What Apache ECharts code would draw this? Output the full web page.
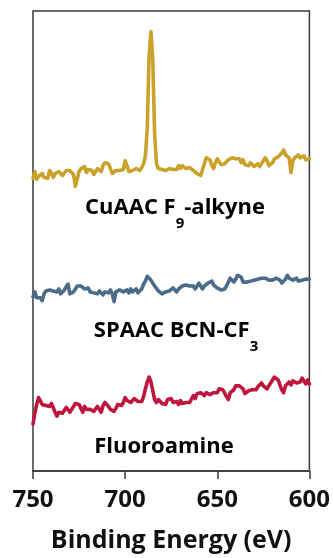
<!DOCTYPE html>
<html>
<head>
<meta charset="utf-8">
<script src="https://cdn.jsdelivr.net/npm/echarts@6/dist/echarts.min.js"></script>
<style>
html,body{margin:0;padding:0;background:#fff;}
#chart{width:333px;height:558px;}
</style>
</head>
<body>
<div id="chart"></div>
<script>
// Binding energy (eV), 1 eV steps
var energies = [750,749,748,747,746,745,744,743,742,741,740,739,738,737,736,735,734,733,732,731,730,729,728,727,726,725,724,723,722,721,720,719,718,717,716,715,714,713,712,711,710,709,708,707,706,705,704,703,702,701,700,699,698,697,696,695,694,693,692,691,690,689,688,687,686,685,684,683,682,681,680,679,678,677,676,675,674,673,672,671,670,669,668,667,666,665,664,663,662,661,660,659,658,657,656,655,654,653,652,651,650,649,648,647,646,645,644,643,642,641,640,639,638,637,636,635,634,633,632,631,630,629,628,627,626,625,624,623,622,621,620,619,618,617,616,615,614,613,612,611,610,609,608,607,606,605,604,603,602,601,600];
// Offset intensities (a.u.)
var cuaac = [299,306,298,301,300,304,300,300,299,307,
  304,300,304,302,306,305,302,304,307,309,
  307,306,303,291,298,306,309,307,311,305,
  308,310,307,303,306,309,307,306,312,315,
  317,314,309,304,306,307,305,307,308,308,
  317,312,306,305,307,307,309,307,307,310,
  314,322,350,425,449,420,345,314,309,311,
  308,310,307,309,309,307,308,310,308,312,
  309,312,310,309,311,310,312,307,309,304,
  302,302,308,314,320,322,318,312,309,315,
  319,318,313,312,314,316,318,320,320,320,
  319,317,319,315,318,313,314,312,315,313,
  311,312,314,311,313,317,320,317,312,310,
  315,319,318,321,323,325,328,323,325,320,
  305,317,320,321,323,320,320,322,318,318,
  319];
var spaac = [178,183,177,179,177,174,181,184,184,185,
  185,184,184,183,186,181,183,185,188,191,
  181,180,183,186,189,188,189,188,186,185,
  187,183,183,182,184,181,184,182,180,183,
  183,182,185,181,173,183,184,185,185,183,
  185,185,182,186,183,185,186,182,182,186,
  191,194,199,199,195,192,189,187,184,184,
  181,183,183,183,184,184,187,185,183,186,
  188,189,189,190,190,189,190,189,186,188,
  192,189,186,189,191,192,191,194,190,190,
  187,186,185,187,186,189,191,197,198,193,
  196,200,202,198,193,194,193,195,194,194,
  195,193,196,194,197,195,197,198,195,197,
  195,196,197,195,195,192,194,196,200,197,
  199,195,196,197,194,195,195,194,196,198,
  196];
var fluoro = [48,59,68,75,75,68,66,67,67,66,
  69,67,60,56,60,61,59,60,65,64,
  60,63,65,69,70,68,64,60,66,63,
  63,63,63,61,59,66,64,60,67,70,
  70,66,63,65,61,64,68,70,67,70,
  75,72,74,70,71,74,75,71,69,71,
  76,84,91,96,91,82,73,70,73,73,
  69,71,68,73,75,74,70,69,71,68,
  72,69,67,70,69,70,72,77,74,79,
  77,80,78,77,80,82,78,76,80,81,
  80,84,85,83,81,76,73,80,82,83,
  87,85,87,86,84,79,77,82,83,83,
  85,83,86,88,90,87,85,84,86,90,
  92,96,97,93,93,83,80,87,88,91,
  88,92,90,90,88,91,95,92,89,93,
  89];
var xTicks = [750,700,650,600];
var seriesNames = ['CuAAC F9-alkyne','SPAAC BCN-CF3','Fluoroamine'];

function pairs(vals){ return energies.map(function(e,i){ return [e, vals[i]]; }); }

var chart = echarts.init(document.getElementById('chart'), null, {renderer:'canvas'});
var font = '"Open Sans", "DejaVu Sans", sans-serif';
var frame = '#3a3a3a';
var labelStyle = {
  a: {fontFamily: font, fontWeight: 'bold', fontSize: 22, color: '#111', lineHeight: 28, verticalAlign: 'middle'},
  sub: {fontFamily: font, fontWeight: 'bold', fontSize: 15, color: '#111', lineHeight: 46, verticalAlign: 'bottom'}
};
function lineSeries(name, vals, color){
  return {name: name, type: 'line', data: pairs(vals), showSymbol: false,
    lineStyle: {color: color, width: 3.6, join: 'round', cap: 'round'}, itemStyle: {color: color}};
}
chart.setOption({
  animation: false,
  grid: {left: 33, right: 21, top: 11, bottom: 77, show: true, borderColor: frame, borderWidth: 1.5, backgroundColor: 'transparent'},
  xAxis: {
    type: 'value', inverse: true, min: 600, max: 750, interval: 50,
    name: 'Binding Energy (eV)', nameLocation: 'middle', nameGap: 57,
    nameTextStyle: {fontFamily: font, fontWeight: 'bold', fontSize: 25, color: '#111'},
    axisLine: {show: true, lineStyle: {color: frame, width: 1.5}},
    axisTick: {show: true, inside: false, length: 8, lineStyle: {color: frame, width: 1.5}},
    axisLabel: {fontFamily: font, fontWeight: 'bold', fontSize: 24, color: '#111', margin: 17,
      formatter: function(v){ return xTicks.indexOf(v) >= 0 ? String(v) : ''; }},
    splitLine: {show: false}
  },
  yAxis: {type: 'value', min: 0, max: 470, show: false},
  series: [
    lineSeries(seriesNames[0], cuaac, '#C9A12B'),
    lineSeries(seriesNames[1], spaac, '#4A6B8A'),
    lineSeries(seriesNames[2], fluoro, '#BE163C')
  ],
  graphic: [
    {type: 'text', x: 175, y: 208, style: {text: '{a|CuAAC F}{sub|9}{a|-alkyne}', rich: labelStyle, align: 'center', verticalAlign: 'middle'}},
    {type: 'text', x: 176, y: 331, style: {text: '{a|SPAAC BCN-CF}{sub|3}', rich: labelStyle, align: 'center', verticalAlign: 'middle'}},
    {type: 'text', x: 164, y: 447, style: {text: '{a|Fluoroamine}', rich: labelStyle, align: 'center', verticalAlign: 'middle'}}
  ]
});
</script>
</body>
</html>
